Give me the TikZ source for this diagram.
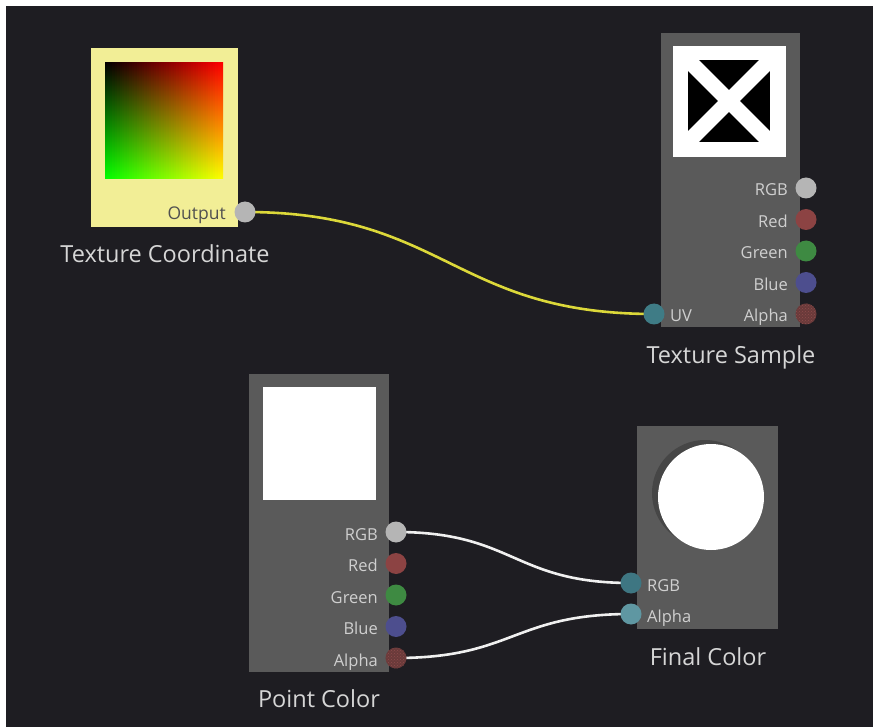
\documentclass[tikz,border=0pt]{standalone}
\usepackage{fontspec}
\setmainfont{Open Sans}
\usetikzlibrary{patterns}
\definecolor{bgdark}{HTML}{1E1D22}
\definecolor{panel}{HTML}{5A5A5A}
\definecolor{ybox}{HTML}{F2EE96}
\definecolor{ylabel}{HTML}{505050}
\definecolor{lbl}{HTML}{CFCFCF}
\definecolor{ttl}{HTML}{D6D6D6}
\definecolor{pgray}{HTML}{B5B5B5}
\definecolor{pred}{HTML}{8C4343}
\definecolor{pgreen}{HTML}{3E8A42}
\definecolor{pblue}{HTML}{4D4E8E}
\definecolor{palpha}{HTML}{6A3A3A}
\definecolor{palphad}{HTML}{8E4C4C}
\definecolor{pteal}{HTML}{3F7C86}
\definecolor{ptealdark}{HTML}{3E7682}
\definecolor{ptealight}{HTML}{5F97A2}
\definecolor{wyellow}{HTML}{DCD83A}
\definecolor{wwhite}{HTML}{F0F0F0}
\definecolor{shadowc}{HTML}{464646}
\pgfdeclarelayer{bg}
\pgfdeclarelayer{wires}
\pgfsetlayers{bg,wires,main}
\begin{document}
\begin{tikzpicture}[x=1pt,y=-1pt,
  port/.style={circle,minimum size=21pt,inner sep=0pt,draw=none},
  portlabel/.style={font=\fontsize{16.5}{16.5}\selectfont,text=lbl,inner sep=0pt},
  title/.style={font=\fontsize{23.5}{23.5}\selectfont,text=ttl,inner sep=0pt,anchor=base},
  panelbox/.style={fill=panel,draw=none},
  wire/.style={line width=2.6pt,line cap=round}
]
\useasboundingbox (0,0) rectangle (873,727);
\begin{pgfonlayer}{bg}
\fill[white] (0,0) rectangle (873,727);
\fill[bgdark] (6,6) rectangle (873,727);
\end{pgfonlayer}

% ---------- Texture Coordinate ----------
\fill[ybox] (91,48) rectangle (238,227);
\begin{scope}
  \clip (105,63) rectangle (223,179);
  \foreach \i in {0,...,47}{
    \pgfmathsetmacro\rv{(\i+0.5)/48}
    \definecolor{topc}{rgb}{\rv,0,0}
    \definecolor{botc}{rgb}{\rv,1,0}
    \shade[top color=topc,bottom color=botc]
      ({105+\i*118/48},63) rectangle ({105+(\i+1)*118/48+0.7},179);
  }
\end{scope}
\node[port,fill=pgray] (tcout) at (245,212) {};
\node[portlabel,font=\fontsize{17.5}{17.5}\selectfont,text=ylabel,anchor=base east] (tcoutl) at (226,220) {Output};
\node[title] (tctitle) at (165,263) {Texture Coordinate};

% ---------- Texture Sample ----------
\fill[panelbox] (661,33) rectangle (800,327);
\fill[white] (673,46) rectangle (786,157);
\fill[black] (688,60) rectangle (770,142);
\begin{scope}
  \clip (688,60) rectangle (770,142);
  \draw[white,line width=15.5pt] (688,60) -- (770,142);
  \draw[white,line width=15.5pt] (770,60) -- (688,142);
\end{scope}
\node[port,fill=pgray] (tsrgb) at (806,188) {};
\node[port,fill=pred] (tsred) at (806,219.5) {};
\node[port,fill=pgreen] (tsgreen) at (806,251) {};
\node[port,fill=pblue] (tsblue) at (806,282.5) {};
\node[port,fill=palpha,postaction={pattern=crosshatch dots,pattern color=palphad}] (tsalpha) at (806,314) {};
\node[port,fill=pteal] (tsuv) at (654,314) {};
\node[portlabel,anchor=base east] (tsrgbl) at (788,196) {RGB};
\node[portlabel,anchor=base east] (tsredl) at (788,227.5) {Red};
\node[portlabel,anchor=base east] (tsgreenl) at (788,259) {Green};
\node[portlabel,anchor=base east] (tsbluel) at (788,290.5) {Blue};
\node[portlabel,anchor=base east] (tsalphal) at (788,322) {Alpha};
\node[portlabel,anchor=base west] (tsuvl) at (670,322) {UV};
\node[title] (tstitle) at (731,363) {Texture Sample};

% ---------- Point Color ----------
\fill[panelbox] (249,374) rectangle (389,672);
\fill[white] (263,387) rectangle (376,500);
\node[port,fill=pgray] (pcrgb) at (396,532) {};
\node[port,fill=pred] (pcred) at (396,563.5) {};
\node[port,fill=pgreen] (pcgreen) at (396,595) {};
\node[port,fill=pblue] (pcblue) at (396,626.5) {};
\node[port,fill=palpha,postaction={pattern=crosshatch dots,pattern color=palphad}] (pcalpha) at (396,658) {};
\node[portlabel,anchor=base east] (pcrgbl) at (378,540) {RGB};
\node[portlabel,anchor=base east] (pcredl) at (378,571.5) {Red};
\node[portlabel,anchor=base east] (pcgreenl) at (378,603) {Green};
\node[portlabel,anchor=base east] (pcbluel) at (378,634.5) {Blue};
\node[portlabel,anchor=base east] (pcalphal) at (378,666) {Alpha};
\node[title] (pctitle) at (319,707) {Point Color};

% ---------- Final Color ----------
\fill[panelbox] (637,426) rectangle (778,629);
\fill[shadowc] (705,493) circle[radius=53];
\fill[white] (711,497) circle[radius=53];
\node[port,fill=ptealdark] (fcrgb) at (631,583) {};
\node[port,fill=ptealight] (fcalpha) at (631,614) {};
\node[portlabel,anchor=base west] (fcrgbl) at (647,591) {RGB};
\node[portlabel,anchor=base west] (fcalphal) at (647,622) {Alpha};
\node[title] (fctitle) at (708,665) {Final Color};

% ---------- wires ----------
\begin{pgfonlayer}{wires}
  \draw[wire,wyellow] (tcout.center) .. controls +(200,0) and +(-200,0) .. (tsuv.center);
  \draw[wire,wwhite] (pcrgb.center) .. controls +(118,0) and +(-118,0) .. (fcrgb.center);
  \draw[wire,wwhite] (pcalpha.center) .. controls +(118,0) and +(-118,0) .. (fcalpha.center);
\end{pgfonlayer}
\end{tikzpicture}
\end{document}
